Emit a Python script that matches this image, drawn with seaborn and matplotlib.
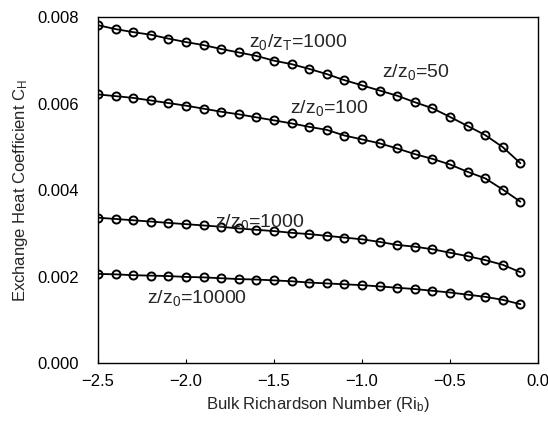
import matplotlib
matplotlib.use("Agg")
import matplotlib.pyplot as plt
import seaborn as sns
import pandas as pd

ri = [-2.5, -2.4, -2.3, -2.2, -2.1, -2.0, -1.9, -1.8, -1.7, -1.6, -1.5, -1.4, -1.3,
      -1.2, -1.1, -1.0, -0.9, -0.8, -0.7, -0.6, -0.5, -0.4, -0.3, -0.2, -0.1]

ch_z50 = [7.81, 7.72, 7.65, 7.59, 7.50, 7.42, 7.35, 7.26, 7.18, 7.10, 6.99, 6.91, 6.80,
          6.68, 6.54, 6.42, 6.30, 6.18, 6.03, 5.89, 5.69, 5.48, 5.27, 4.99, 4.62]
ch_z100 = [6.21, 6.17, 6.13, 6.07, 6.01, 5.95, 5.88, 5.81, 5.75, 5.68, 5.61, 5.54, 5.46,
           5.39, 5.26, 5.17, 5.08, 4.96, 4.83, 4.72, 4.59, 4.42, 4.27, 4.01, 3.73]
ch_z1000 = [3.36, 3.33, 3.30, 3.27, 3.24, 3.21, 3.18, 3.15, 3.11, 3.08, 3.05, 3.01, 2.98,
            2.94, 2.90, 2.86, 2.80, 2.73, 2.69, 2.63, 2.55, 2.47, 2.38, 2.27, 2.10]
ch_z10000 = [2.06, 2.05, 2.03, 2.02, 2.01, 1.99, 1.98, 1.96, 1.94, 1.93, 1.91, 1.89, 1.86,
             1.84, 1.82, 1.80, 1.77, 1.74, 1.71, 1.67, 1.63, 1.58, 1.53, 1.46, 1.36]

series_names = ["z/z0=50", "z/z0=100", "z/z0=1000", "z/z0=10000"]
series_vals = [ch_z50, ch_z100, ch_z1000, ch_z10000]

x_ticks = [-2.5, -2.0, -1.5, -1.0, -0.5, 0.0]
y_ticks = [0.000, 0.002, 0.004, 0.006, 0.008]

rows = []
for name, vals in zip(series_names, series_vals):
    for x, v in zip(ri, vals):
        rows.append({"Ri": x, "CH": v * 1e-3, "series": name})
df = pd.DataFrame(rows)

sns.set_style("ticks")
plt.rcParams["font.family"] = ["Liberation Sans", "DejaVu Sans"]
plt.rcParams["mathtext.fontset"] = "custom"
plt.rcParams["mathtext.rm"] = "Liberation Sans"
plt.rcParams["mathtext.it"] = "Liberation Sans:italic"

fig = plt.figure(figsize=(5.48, 4.23), dpi=100)
ax = fig.add_axes([98 / 548, 1 - 363 / 423, 440 / 548, 346 / 423])

for name in series_names:
    sub = df[df["series"] == name]
    sns.lineplot(data=sub, x="Ri", y="CH", ax=ax, color="black", linewidth=1.3,
                 marker="o", markersize=5.8, markerfacecolor="none",
                 markeredgecolor="black", markeredgewidth=1.4, legend=False)

ax.set_xlim(-2.5, 0.0)
ax.set_ylim(0.0, 0.008)
ax.set_xticks(x_ticks)
ax.set_xticklabels(["\u22122.5", "\u22122.0", "\u22121.5", "\u22121.0", "\u22120.5", "0.0"])
ax.set_yticks(y_ticks)
ax.set_yticklabels([f"{v:.3f}" for v in y_ticks])
ax.tick_params(axis="both", direction="in", length=3, width=0.8, labelsize=12, colors="black")
ax.tick_params(axis="y", length=0, pad=14)
ax.tick_params(axis="x", pad=8)
for s in ax.spines.values():
    s.set_visible(True)
    s.set_color("black")
    s.set_linewidth(1.0)

ax.set_xlabel("Bulk Richardson Number (Ri$_{\\mathrm{b}}$)", fontsize=12, labelpad=4)
ax.set_ylabel("Exchange Heat Coefficient C$_{\\mathrm{H}}$", fontsize=12, labelpad=5)

fs = 14
ax.text(-1.64, 0.00742, "z$_{\\mathrm{0}}$/z$_{\\mathrm{T}}$=1000", fontsize=fs, ha="left", va="center")
ax.text(-0.886, 0.00673, "z/z$_{\\mathrm{0}}$=50", fontsize=fs, ha="left", va="center")
ax.text(-1.409, 0.00590, "z/z$_{\\mathrm{0}}$=100", fontsize=fs, ha="left", va="center")
ax.text(-1.835, 0.00326, "z/z$_{\\mathrm{0}}$=1000", fontsize=fs, ha="left", va="center")
ax.text(-2.222, 0.00150, "z/z$_{\\mathrm{0}}$=10000", fontsize=fs, ha="left", va="center")

fig.savefig("out.png", dpi=100, facecolor="white")
